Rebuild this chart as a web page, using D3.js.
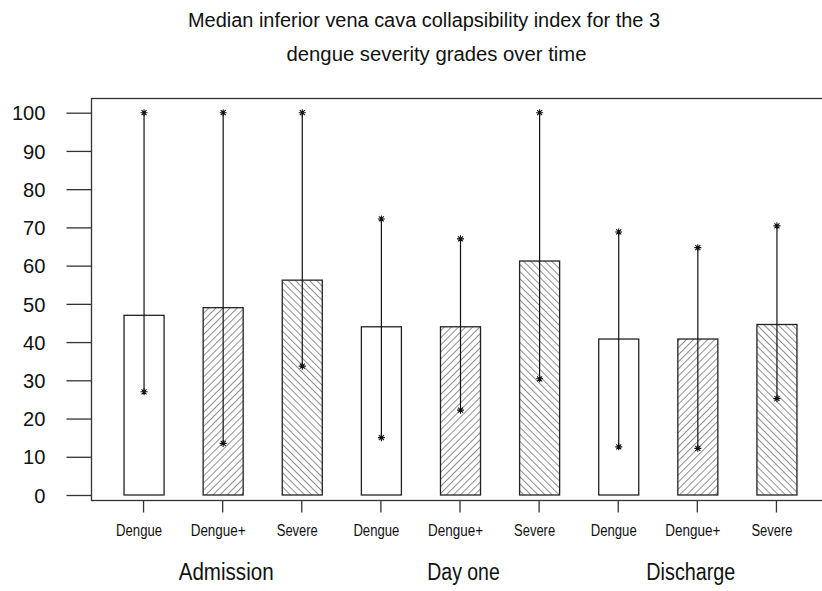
<!DOCTYPE html>
<html>
<head>
<meta charset="utf-8">
<script src="https://cdn.jsdelivr.net/npm/d3@7"></script>
<style>
  html, body { margin: 0; padding: 0; background: #fff; }
  svg { display: block; font-family: "Liberation Sans", Arial, sans-serif; }
</style>
</head>
<body>
<svg id="chart" width="822" height="591"></svg>
<script>
// ---- data ----
const titleLines = ["Median inferior vena cava collapsibility index for the 3",
                    "dengue severity grades over time"];
const timepoints = ["Admission", "Day one", "Discharge"];
const grades = ["Dengue", "Dengue+", "Severe"];
const medians = [47, 49, 56.2, 44, 44, 61.2, 40.8, 40.8, 44.6];
const lows    = [27, 13.5, 33.7, 15, 22.2, 30.4, 12.6, 12.2, 25.2];
const highs   = [100, 100, 100, 72.2, 67, 100, 68.8, 64.7, 70.4];
const yTicks  = [0, 10, 20, 30, 40, 50, 60, 70, 80, 90, 100];

// ---- build records ----
const records = [];
timepoints.forEach((t, ti) => grades.forEach((g, gi) => {
  const i = ti * grades.length + gi;
  records.push({ key: i, time: t, grade: g, gi, median: medians[i], low: lows[i], high: highs[i] });
}));

const svg = d3.select("#chart");
const ink = "#111";

// scales
const y = d3.scaleLinear().domain([0, 100]).range([495, 112.7]);
const x = d3.scaleBand().domain(records.map(d => d.key))
  .range([104, 816]).paddingInner(0.494).paddingOuter(0.247);

// hatch patterns
const defs = svg.append("defs");
function hatch(id, angle) {
  const p = defs.append("pattern").attr("id", id)
    .attr("patternUnits", "userSpaceOnUse").attr("width", 5).attr("height", 5)
    .attr("patternTransform", `rotate(${angle})`);
  p.append("rect").attr("width", 5).attr("height", 5).attr("fill", "#fff");
  p.append("line").attr("x1", 0).attr("y1", 0).attr("x2", 0).attr("y2", 5)
    .attr("stroke", "#222").attr("stroke-width", 1);
}
hatch("hatchFwd", 45);
hatch("hatchBack", -45);
const fills = ["#fff", "url(#hatchFwd)", "url(#hatchBack)"];

// title
svg.selectAll("text.title").data(titleLines).join("text")
  .attr("class", "title")
  .attr("x", (d, i) => i === 0 ? 424 : 436.5)
  .attr("y", (d, i) => i === 0 ? 27 : 61)
  .attr("text-anchor", "middle")
  .attr("font-size", 19.5)
  .attr("fill", ink)
  .attr("textLength", (d, i) => i === 0 ? 472 : 300)
  .attr("lengthAdjust", "spacingAndGlyphs")
  .text(d => d);

// plot frame (right edge falls outside the picture)
svg.append("rect").attr("x", 91.5).attr("y", 98.5).attr("width", 760).attr("height", 402)
  .attr("fill", "none").attr("stroke", "#333").attr("stroke-width", 1.3);

// y axis
const yAxis = svg.append("g").attr("transform", "translate(91.5,0)")
  .call(d3.axisLeft(y).tickValues(yTicks).tickSize(25).tickPadding(21).tickFormat(d3.format("d")));
yAxis.select(".domain").remove();
yAxis.selectAll(".tick line").attr("stroke", "#333").attr("stroke-width", 1.3);
yAxis.selectAll(".tick text")
  .attr("font-size", 20).attr("fill", ink)
  .attr("font-family", "'Liberation Sans', Arial, sans-serif")
  .attr("dy", "0.36em")
  .attr("textLength", d => String(d).length * 11.2)
  .attr("lengthAdjust", "spacingAndGlyphs");

// x axis (ticks only)
const xAxis = svg.append("g").attr("transform", "translate(0,500.5)")
  .call(d3.axisBottom(x).tickSize(12).tickFormat(""));
xAxis.select(".domain").remove();
xAxis.selectAll(".tick line").attr("stroke", "#333").attr("stroke-width", 1.3);

// bars
svg.append("g").selectAll("rect").data(records).join("rect")
  .attr("x", d => x(d.key) + 0.5)
  .attr("y", d => y(d.median))
  .attr("width", x.bandwidth())
  .attr("height", d => y(0) - y(d.median))
  .attr("fill", d => fills[d.gi])
  .attr("stroke", "#222").attr("stroke-width", 1.3);

// whiskers
const cx = d => x(d.key) + x.bandwidth() / 2 + 0.5;
svg.append("g").selectAll("line").data(records).join("line")
  .attr("x1", cx).attr("x2", cx)
  .attr("y1", d => y(d.low)).attr("y2", d => y(d.high))
  .attr("stroke", ink).attr("stroke-width", 1.2);

const star = "M-3.5,0H3.5M0,-3.5V3.5M-2.5,-2.5L2.5,2.5M-2.5,2.5L2.5,-2.5";
const ends = records.flatMap(d => [{ d, v: d.low }, { d, v: d.high }]);
svg.append("g").selectAll("path").data(ends).join("path")
  .attr("transform", e => `translate(${cx(e.d)},${y(e.v)})`)
  .attr("d", star).attr("stroke", ink).attr("stroke-width", 1.1).attr("fill", "none");

// category labels
const gradeWidths = { "Dengue": 46, "Dengue+": 55, "Severe": 41 };
svg.append("g").selectAll("text").data(records).join("text")
  .attr("x", d => cx(d) - 5)
  .attr("y", 536)
  .attr("text-anchor", "middle")
  .attr("font-size", 16)
  .attr("fill", ink)
  .attr("textLength", d => gradeWidths[d.grade])
  .attr("lengthAdjust", "spacingAndGlyphs")
  .text(d => d.grade);

// timepoint labels
const timeWidths = { "Admission": 95, "Day one": 72.5, "Discharge": 89 };
svg.append("g").selectAll("text").data(timepoints).join("text")
  .attr("x", (t, i) => cx(records[i * grades.length + 1]) + [3, 3, -7][i])
  .attr("y", 580)
  .attr("text-anchor", "middle")
  .attr("font-size", 23)
  .attr("fill", ink)
  .attr("textLength", t => timeWidths[t])
  .attr("lengthAdjust", "spacingAndGlyphs")
  .text(t => t);
</script>
</body>
</html>
